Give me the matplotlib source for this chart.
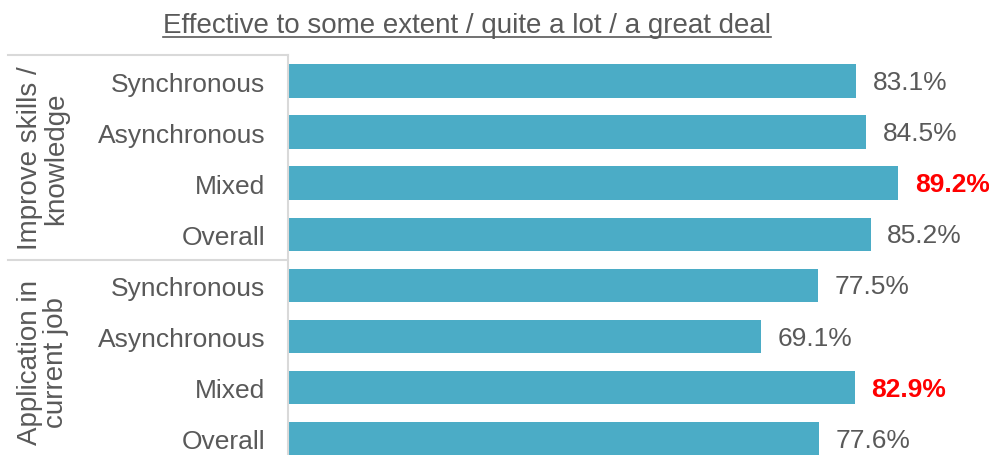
import matplotlib
matplotlib.use("Agg")
import matplotlib.pyplot as plt
from matplotlib.transforms import blended_transform_factory

plt.rcParams['font.family'] = ['Liberation Sans', 'DejaVu Sans']

title = "Effective to some extent / quite a lot / a great deal"
groups = ["Improve skills /\nknowledge", "Application in\ncurrent job"]
categories = ["Synchronous", "Asynchronous", "Mixed", "Overall"]
improve_values = [83.1, 84.5, 89.2, 85.2]
application_values = [77.5, 69.1, 82.9, 77.6]
highlight = ["Mixed"]

labels = categories + categories
values = improve_values + application_values

BAR = "#4BACC6"
GRAY = "#595959"
LINE = "#D9D9D9"

fig = plt.figure(figsize=(9.89, 4.56), dpi=100)
W, H = 989, 456
ax = fig.add_axes([288 / W, 0, 1 - 288 / W, 400 / H])

ypos = list(range(len(values)))
ax.barh(ypos, values, height=0.65, color=BAR)
ax.set_xlim(0, 102.5)
ax.set_ylim(7.33, -0.51)

for y, v, lab in zip(ypos, values, labels):
    hi = lab in highlight
    ax.annotate(f"{v:.1f}%", (v, y), xytext=(12, -1), textcoords="offset points",
                va="center", ha="left", fontsize=19,
                color="#FF0000" if hi else GRAY,
                fontweight="bold" if hi else "normal")

ax.set_yticks(ypos)
ax.set_yticklabels(labels, fontsize=19, color=GRAY)
ax.tick_params(axis="y", length=0, pad=16.5)
ax.set_xticks([])
for s in ["top", "right", "bottom"]:
    ax.spines[s].set_visible(False)
ax.spines["left"].set_color(LINE)
ax.spines["left"].set_linewidth(1.5)

trans = blended_transform_factory(ax.transAxes, ax.transData)
x0 = -(288 - 8) / (W - 288)
for yy in [-0.51, 3.5]:
    ax.plot([x0, 0], [yy, yy], transform=trans, color=LINE, lw=1.5, clip_on=False)

for gi, g in enumerate(groups):
    yc = 1.5 + 4 * gi
    ax.text(-(288 - 43) / (W - 288), yc, g, transform=trans, rotation=90,
            ha="center", va="center", fontsize=20, color=GRAY, linespacing=1.0,
            multialignment="center")

t = fig.text(467 / W, 1 - 26 / H, title, ha="center", va="center",
             fontsize=20, color=GRAY)
# underline
fig.canvas.draw()
bb = t.get_window_extent()
fig.add_artist(plt.Line2D([bb.x0 / (W), bb.x1 / (W)], [(bb.y0 + 1) / H] * 2,
                          color=GRAY, lw=1.2, transform=fig.transFigure))

fig.savefig("out.png", dpi=100)
